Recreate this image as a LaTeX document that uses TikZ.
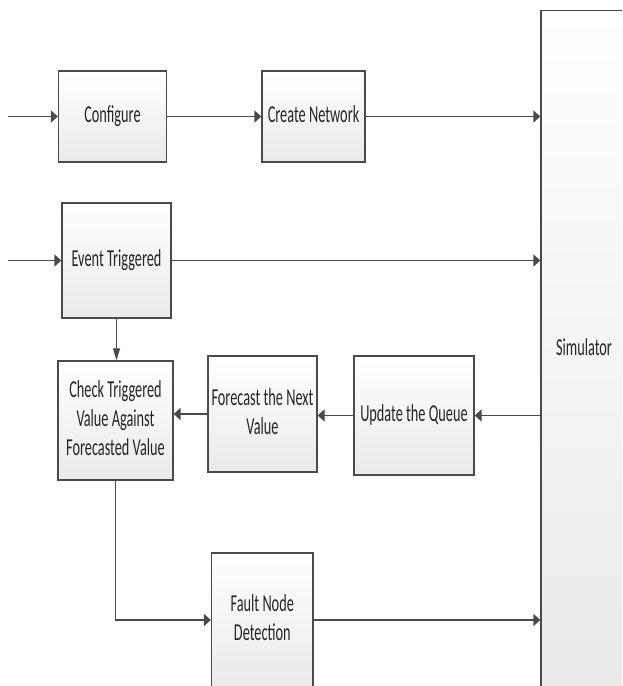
\documentclass[tikz,border=0pt]{standalone}
\usepackage{fontspec}
\setmainfont{Carlito}
\usepackage{xcolor}
\usepackage{tikz}
\usetikzlibrary{calc, arrows.meta}
\definecolor{flowLine}{HTML}{4A4A4A}
\definecolor{flowText}{HTML}{262626}
\definecolor{flowSoft}{HTML}{EAEAEA}

\newcommand{\boxtext}[1]{\scalebox{1}[1.7]{\begin{tabular}{@{}c@{}}#1\end{tabular}}}

\tikzset{
    flowbox/.style={rectangle, draw=flowLine, line width=1.3pt, top color=white,
                    bottom color=flowSoft, inner sep=0pt, text=flowText,
                    font=\fontsize{14.3}{17.2}\selectfont},
    flow/.style={draw=flowLine, line width=1.9pt, -{Triangle[length=7pt, width=12pt]}},
    flowdown/.style={draw=flowLine, line width=1.1pt, -{Triangle[length=12pt, width=7pt]}}
}

\begin{document}
\begin{tikzpicture}[x=1pt, y=-1pt]
        \useasboundingbox (0,0) rectangle (622,686);
        \fill[white] (0,0) rectangle (622,686);
        \clip (0,0) rectangle (622,686);

        % boxes
        \node[flowbox, minimum width=108pt, minimum height=91pt] (configure) at (112.5,116.5) {\boxtext{Configure}};
        \node[flowbox, minimum width=103pt, minimum height=91pt] (network) at (313.5,116.5) {\boxtext{Create Network}};
        \node[flowbox, minimum width=109pt, minimum height=115pt] (event) at (116.5,260.5) {\boxtext{Event Triggered}};
        \node[flowbox, minimum width=115pt, minimum height=119pt] (check) at (115.5,420.5) {\boxtext{Check Triggered\\Value Against\\Forecasted Value}};
        \node[flowbox, minimum width=109pt, minimum height=116pt] (forecast) at (262.5,414) {\boxtext{Forecast the Next\\Value}};
        \node[flowbox, minimum width=120pt, minimum height=119pt] (queue) at (414,415.5) {\boxtext{Update the Queue}};
        \node[flowbox, minimum width=101.5pt, minimum height=134pt] (fault) at (262.3,620) {\boxtext{Fault Node\\Detection}};
        \node[flowbox, minimum width=86pt, minimum height=678pt] (simulator) at (584,349.5) {\boxtext{Simulator}};

        % inputs
        \coordinate (startA) at (8,116.5);
        \coordinate (startB) at (8,260.5);
        \coordinate (bend) at (check.south |- fault.west);

        % connectors
        \draw[flow] (startA) -- (configure.west);
        \draw[flow] (configure.east) -- (network.west);
        \draw[flow] (network.east) -- (network.east -| simulator.west);
        \draw[flow] (startB) -- (event.west);
        \draw[flow] (event.east) -- (event.east -| simulator.west);
        \draw[flowdown] (event.south) -- (event.south |- check.north);
        \draw[flow] (queue.east -| simulator.west) -- (queue.east);
        \draw[flow] (queue.west) -- (queue.west -| forecast.east);
        \draw[flow] (forecast.west) -- (forecast.west -| check.east);
        \draw[flowdown, -] (check.south) -- ([yshift=-0.9pt]bend);
        \draw[flow] (bend) -- (fault.west);
        \draw[flow] (fault.east) -- (fault.east -| simulator.west);
    \end{tikzpicture}
\end{document}
